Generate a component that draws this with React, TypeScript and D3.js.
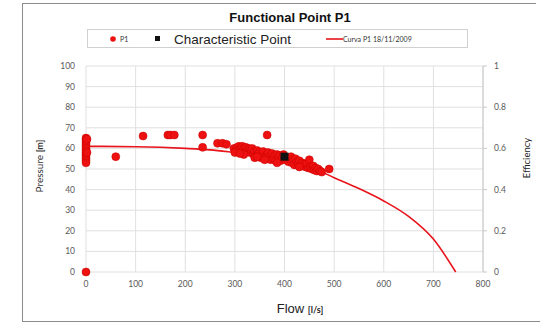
import React from "react";
import * as d3 from "d3";

const flowTicks = [0, 100, 200, 300, 400, 500, 600, 700, 800];
const pressureTicks = [0, 10, 20, 30, 40, 50, 60, 70, 80, 90, 100];
const efficiencyTicks = [0, 0.2, 0.4, 0.6, 0.8, 1];

const p1Flow = [
  0, 0, 0, 0, 0, 0, 0, 0, 0, 0, 0, 0, 0, 0, 2, 2,
  60, 115, 165, 170, 178, 235, 235, 265, 275, 283, 365,
  298, 302, 305, 308, 310, 312, 315, 318, 320, 322, 325, 328, 330, 332, 335, 338, 340, 342, 345, 347,
  350, 352, 355, 357, 360, 362, 365, 367, 370, 372, 375, 378, 380, 382, 385, 388, 390, 392, 395, 398,
  402, 405, 408, 410, 413, 415, 418, 420, 422, 425, 428, 430, 433, 435, 438, 440, 443, 445, 448, 450,
  452, 455, 458, 460, 463, 465, 468, 472, 475, 490, 318, 340, 360, 345, 385, 430, 300, 310
];
const p1Pressure = [
  65, 64, 63, 62, 61, 60, 59, 58, 57, 56, 55, 54, 53, 0, 64.5, 58,
  56, 66, 66.5, 66.5, 66.5, 66.5, 60.5, 62.5, 62.5, 62, 66.5,
  60, 59, 60.5, 61, 59.5, 60, 61, 60, 58.5, 60.5, 59, 60, 58, 59.5, 60, 57, 58.5, 56, 59, 57.5,
  58, 55.5, 57, 58.5, 56, 55, 57, 58, 56, 54.5, 57.5, 55, 56.5, 54, 57, 55.5, 56.5, 54, 55.5, 57,
  54.5, 55.5, 53.5, 55, 56, 53, 54.5, 52, 55, 53.5, 52.5, 54, 52, 53, 51.5, 52.5, 51, 52.5, 50.5, 54.5,
  51, 50, 51.5, 49.5, 50.5, 49, 50, 49, 48.5, 50, 57, 55.5, 54.5, 56, 53, 51, 58, 57.5
];
const charFlow = [400];
const charPressure = [56];
const curveFlow = [0, 100, 200, 250, 300, 350, 400, 450, 500, 550, 600, 650, 700, 745];
const curvePressure = [61, 60.8, 60, 59.3, 58, 56.6, 54.6, 51.2, 45.8, 40.5, 34.5, 27, 16, 0];

const W = 540;
const H = 323;
const left = 86;
const right = 483;
const top = 66;
const bottom = 272;

export default function App() {
  const x = d3.scaleLinear().domain([0, 800]).range([left, right]);
  const y = d3.scaleLinear().domain([0, 100]).range([bottom, top]);
  const y2 = d3.scaleLinear().domain([0, 1]).range([bottom, top]);
  const line = d3
    .line<number>()
    .x((d, i) => x(curveFlow[i]))
    .y((d) => y(d))
    .curve(d3.curveMonotoneX);
  const tickFont = "Lato, 'Open Sans', sans-serif";
  const tickColor = "#595959";
  return (
    <svg width={W} height={H} style={{ position: "absolute", left: 0, top: 0, background: "#fff" }}>
      <rect x={0} y={0} width={W} height={H} fill="#fff" />
      {/* frame */}
      <line x1={22.5} y1={3} x2={22.5} y2={321.5} stroke="#8c8c8c" />
      <line x1={22} y1={3.5} x2={536} y2={3.5} stroke="#8c8c8c" />
      <line x1={22} y1={321.5} x2={540} y2={321.5} stroke="#8c8c8c" />
      {/* grid */}
      {pressureTicks.map((t) => (
        <line key={"h" + t} x1={left} x2={right} y1={y(t)} y2={y(t)} stroke="#e0e0e0" />
      ))}
      {flowTicks.map((t) => (
        <line key={"v" + t} x1={x(t)} x2={x(t)} y1={top} y2={bottom} stroke="#e0e0e0" />
      ))}
      <line x1={right} x2={right} y1={top} y2={bottom} stroke="#c8c8c8" />
      {efficiencyTicks.map((t) => (
        <line key={"et" + t} x1={right} x2={right + 4} y1={y2(t)} y2={y2(t)} stroke="#c8c8c8" />
      ))}
      {/* tick labels */}
      {pressureTicks.map((t) => (
        <text key={"yl" + t} x={75} y={y(t)} dy="0.35em" textAnchor="end" fontSize={8.5} fill={tickColor} fontFamily={tickFont}>
          {t}
        </text>
      ))}
      {flowTicks.map((t) => (
        <text key={"xl" + t} x={x(t)} y={bottom + 15} textAnchor="middle" fontSize={8.5} fill={tickColor} fontFamily={tickFont}>
          {t}
        </text>
      ))}
      {efficiencyTicks.map((t) => (
        <text key={"el" + t} x={494} y={y2(t)} dy="0.35em" textAnchor="start" fontSize={8.5} fill={tickColor} fontFamily={tickFont}>
          {t}
        </text>
      ))}
      {/* curve */}
      <path d={line(curvePressure) || ""} fill="none" stroke="#e8131b" strokeWidth={1.6} />
      {/* scatter */}
      {p1Flow.map((f, i) => (
        <circle key={"p" + i} cx={x(f)} cy={y(p1Pressure[i])} r={4} fill="#ee1111" stroke="#c80000" strokeWidth={0.5} />
      ))}
      {charFlow.map((f, i) => (
        <rect key={"c" + i} x={x(f) - 4} y={y(charPressure[i]) - 4} width={8} height={8} fill="#111" />
      ))}
      {/* title */}
      <text x={290} y={22} textAnchor="middle" fontSize={13} fontWeight="bold" fontFamily="'Liberation Sans', Arial, sans-serif" fill="#111">
        Functional Point P1
      </text>
      {/* legend */}
      <rect x={87.5} y={29.5} width={380} height={18} fill="#fff" stroke="#d0d0d0" />
      <circle cx={113} cy={39} r={2.8} fill="#ee1111" />
      <text x={120} y={41.5} fontSize={7} fill="#333" fontFamily={tickFont}>P1</text>
      <rect x={155} y={36} width={5} height={5} fill="#111" />
      <text x={174} y={43.5} fontSize={13.5} fill="#222" fontFamily="'Liberation Sans', Arial, sans-serif">Characteristic Point</text>
      <line x1={326} x2={343} y1={39} y2={39} stroke="#e8131b" strokeWidth={1.6} />
      <text x={343} y={41.5} fontSize={7} fill="#333" fontFamily={tickFont}>Curva P1 18/11/2009</text>
      {/* axis titles */}
      <text transform="translate(43,166) rotate(-90)" textAnchor="middle" fontSize={10} fill="#333" fontFamily={tickFont}>
        Pressure <tspan fontWeight="bold" fontSize={9}>[m]</tspan>
      </text>
      <text transform="translate(530,158) rotate(-90)" textAnchor="middle" fontSize={9.5} fill="#222" fontFamily={tickFont}>
        Efficiency
      </text>
      <text x={300} y={313} textAnchor="middle" fontSize={13} fill="#222" fontFamily="'Liberation Sans', Arial, sans-serif">
        Flow <tspan fontSize={9} fontWeight="bold" fontFamily={tickFont}>[l/s]</tspan>
      </text>
    </svg>
  );
}
